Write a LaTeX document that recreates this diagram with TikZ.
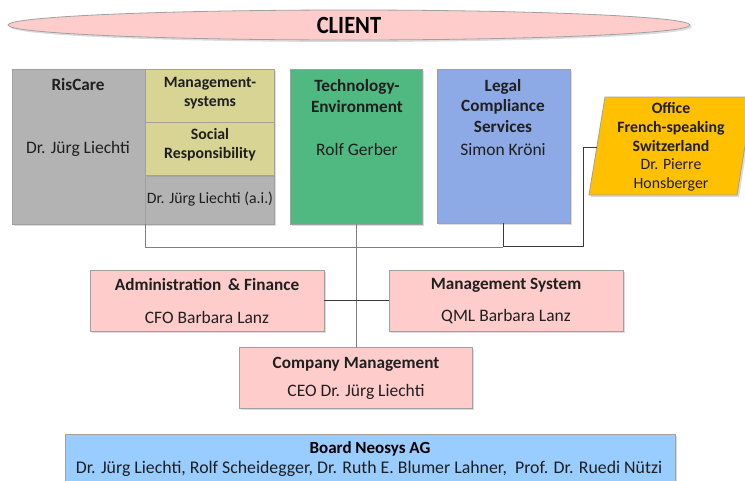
\documentclass[tikz,border=0pt]{standalone}
\usepackage{fontspec}
\setmainfont{Carlito}
\usetikzlibrary{shadows,shapes.geometric}
\definecolor{bordergray}{HTML}{A0A0A0}
\definecolor{grayfill}{HTML}{B3B3B3}
\definecolor{yellowfill}{HTML}{D7D494}
\definecolor{greenfill}{HTML}{50B981}
\definecolor{bluefill}{HTML}{8EAAE6}
\definecolor{orangefill}{HTML}{FFC000}
\definecolor{pinkfill}{HTML}{FFCCCC}
\definecolor{boardfill}{HTML}{99CCFF}
\definecolor{txt}{HTML}{1F1F1F}
\definecolor{linegray}{HTML}{7F7F7F}
\definecolor{linedark}{HTML}{3A3A3A}
\begin{document}
\begin{tikzpicture}[x=1pt,y=-1pt,
  myshadow/.style={drop shadow={shadow xshift=2pt,shadow yshift=-2pt,opacity=0.28}},
  box/.style={draw=bordergray,line width=0.8pt,myshadow,anchor=north west,inner sep=0pt,outer sep=0pt},
  head/.style={font=\bfseries\fontsize{17.2}{20.8}\selectfont,text=txt,align=center,inner sep=0pt},
  headsmall/.style={font=\bfseries\fontsize{15.8}{19}\selectfont,text=txt,align=center,inner sep=0pt},
  person/.style={font=\fontsize{17.5}{20}\selectfont,text=txt,align=center,inner sep=0pt},
  personsmall/.style={font=\fontsize{15.8}{19}\selectfont,text=txt,align=center,inner sep=0pt},
  conngray/.style={draw=linegray,line width=0.9pt},
  conndark/.style={draw=linedark,line width=0.9pt}]
\useasboundingbox (0,0) rectangle (745,480);

% CLIENT
\node[ellipse,draw=bordergray,line width=0.8pt,fill=pinkfill,myshadow,minimum width=682pt,minimum height=30pt,inner sep=0pt] (client) at (349,25) {};
\node[font=\bfseries\fontsize{22.5}{24}\selectfont,text=black,inner sep=0pt,yscale=1.1] (clientT) at (349,25) {CLIENT};

\coordinate (hl) at (503,247);
\coordinate (officeIn) at (597,147);
\coordinate (corner) at (583,246);

% RisCare group
\node[box,fill=grayfill,minimum width=133pt,minimum height=155pt] (ris) at (12,69) {};
\node[box,fill=grayfill,minimum width=129pt,minimum height=49pt] (ai) at (145,175) {};
\node[box,fill=yellowfill,minimum width=129pt,minimum height=53pt] (ms) at (145,69) {};
\node[box,fill=yellowfill,minimum width=129pt,minimum height=53pt] (sr) at (145,122) {};
\node[head] (risT) at (78,85) {RisCare};
\node[person] (risN) at (78,149) {Dr. Jürg Liechti};
\node[headsmall] (msT) at (210,93) {Management-\\systems};
\node[headsmall] (srT) at (210,145) {Social\\Responsibility};
\node[personsmall] (aiT) at (210,199) {Dr. Jürg Liechti (a.i.)};

% Technology
\node[box,fill=greenfill,minimum width=132pt,minimum height=155pt] (tech) at (290,69) {};
\node[head] (techT) at (357,96) {Technology-\\Environment};
\node[person] (techN) at (357,149) {Rolf Gerber};

% Legal
\node[box,fill=bluefill,minimum width=133pt,minimum height=154pt] (legal) at (437,69) {};
\node[head] (legalT) at (503,106) {Legal\\Compliance\\Services};
\node[person] (legalN) at (503,150) {Simon Kröni};

% Office
\path[draw=bordergray,line width=0.8pt,fill=orangefill,myshadow] (605,97) -- (753,97) -- (737,195) -- (589,195) -- cycle;
\node[headsmall] (officeT) at (671,127) {Office\\French-speaking\\Switzerland};
\node[personsmall] (officeN) at (671,175) {Dr. Pierre\\Honsberger};

% lower boxes
\node[box,fill=pinkfill,minimum width=234pt,minimum height=61pt] (admin) at (90,270) {};
\node[head] (adminT) at (207,285) {Administration~\,\& Finance};
\node[person] (adminN) at (207,317) {CFO Barbara Lanz};

\node[box,fill=pinkfill,minimum width=234pt,minimum height=61pt] (mgs) at (389,270) {};
\node[head] (mgsT) at (506,285) {Management System};
\node[person] (mgsN) at (506,317) {QML Barbara Lanz};

\node[box,fill=pinkfill,minimum width=233pt,minimum height=61pt] (cm) at (239,347) {};
\node[head] (cmT) at (356,364) {Company Management};
\node[person] (cmN) at (356,392) {CEO Dr. Jürg Liechti};

\node[box,fill=boardfill,minimum width=610pt,minimum height=60pt] (board) at (65,434) {};
\node[font=\bfseries\fontsize{17}{20}\selectfont,text=black,inner sep=0pt] (boardT) at (370,449) {Board Neosys AG};
\node[font=\fontsize{17.8}{20}\selectfont,text=txt,inner sep=0pt] (boardN) at (369,469) {Dr. Jürg Liechti, Rolf Scheidegger, Dr. Ruth E. Blumer Lahner, \ Prof. Dr. Ruedi Nützi};

% connectors
\draw[conngray] (ris.south east) |- (hl);
\draw[conngray] (tech.south) -- (tech.south |- cm.north);
\draw[conndark] (legal.south) |- (corner) |- (officeIn);
\draw[conndark] (admin.east) -- (mgs.west);
\end{tikzpicture}
\end{document}
